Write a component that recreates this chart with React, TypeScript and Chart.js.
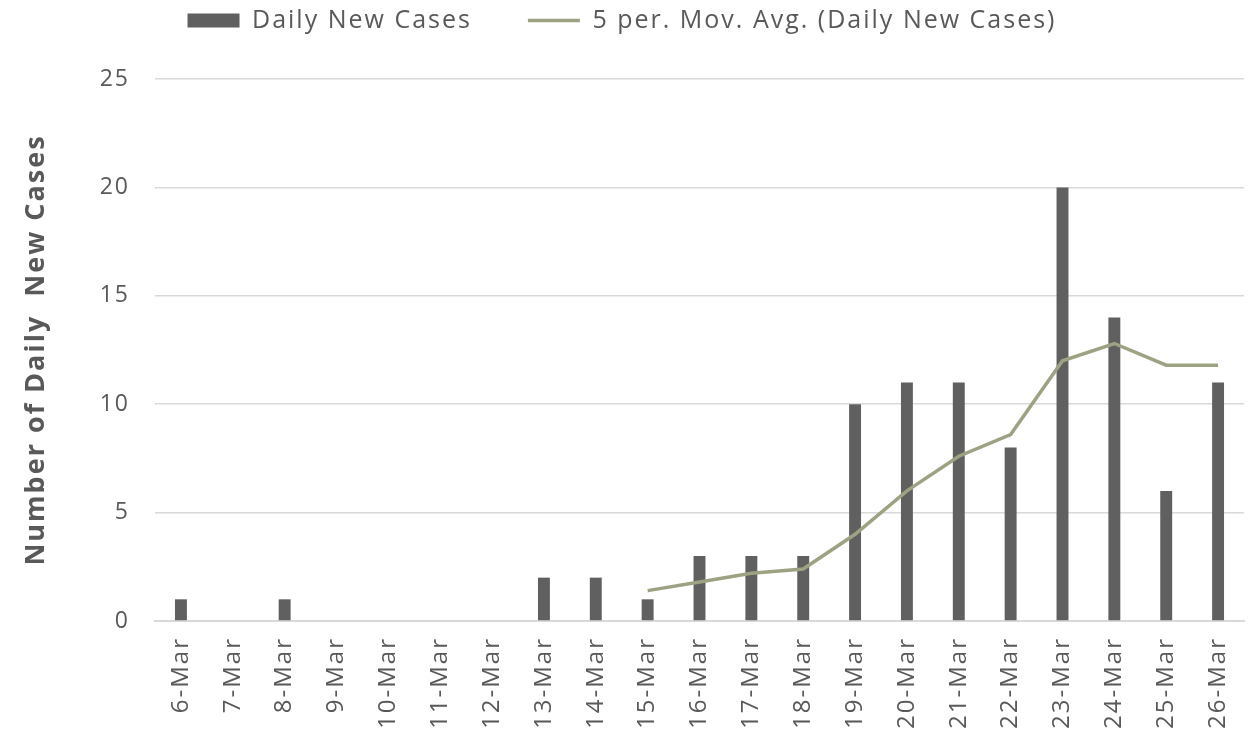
import React, { useEffect, useRef } from "react";
import { Chart, registerables } from "chart.js";

Chart.register(...registerables);

const categories = ["6-Mar", "7-Mar", "8-Mar", "9-Mar", "10-Mar", "11-Mar", "12-Mar", "13-Mar", "14-Mar", "15-Mar", "16-Mar", "17-Mar", "18-Mar", "19-Mar", "20-Mar", "21-Mar", "22-Mar", "23-Mar", "24-Mar", "25-Mar", "26-Mar"];
const dailyNewCases = [1, 0, 1, 0, 0, 0, 0, 2, 2, 1, 3, 3, 3, 10, 11, 11, 8, 20, 14, 6, 11];
const movingAvg: (number | null)[] = [null, null, null, null, null, null, null, null, null, 1.4, 1.8, 2.2, 2.4, 4, 6, 7.6, 8.6, 12, 12.8, 11.8, 11.8];
const yTicks = [0, 5, 10, 15, 20, 25];

const FONT = "'Open Sans', Lato, sans-serif";
const TEXT = "#595959";

export default function App() {
  const ref = useRef<HTMLCanvasElement | null>(null);
  useEffect(() => {
    if (!ref.current) return;
    const spacing = {
      id: "spacing",
      beforeInit(chart: any) {
        chart.ctx.letterSpacing = "2px";
      },
      beforeUpdate(chart: any) {
        chart.ctx.letterSpacing = "2px";
      },
      beforeDraw(chart: any) {
        chart.ctx.letterSpacing = "2px";
      },
    };
    const legendMargin = {
      id: "legendMargin",
      beforeInit(chart: any) {
        const fit = chart.legend.fit;
        chart.legend.fit = function () {
          fit.bind(chart.legend)();
          this.height += 36;
        };
      },
    };
    const chart = new Chart(ref.current, {
      type: "bar",
      data: {
        labels: categories,
        datasets: [
          {
            type: "bar",
            label: "Daily New Cases",
            data: dailyNewCases,
            backgroundColor: "#606060",
            borderWidth: 0,
            barPercentage: 0.23,
            categoryPercentage: 1,
            order: 2,
          },
          {
            type: "line",
            label: "5 per. Mov. Avg. (Daily New Cases)",
            data: movingAvg,
            borderColor: "#9ca383",
            backgroundColor: "#9ca383",
            borderWidth: 3.5,
            pointRadius: 0,
            tension: 0,
            spanGaps: false,
            order: 1,
          },
        ],
      },
      options: {
        animation: false,
        responsive: false,
        maintainAspectRatio: false,
        layout: { padding: { top: -48, right: 14, bottom: 0, left: 0 } },
        plugins: {
          tooltip: { enabled: false },
          legend: {
            position: "top",
            align: "center",
            labels: {
              font: { family: FONT, size: 25 },
              color: TEXT,
              usePointStyle: true,
              pointStyleWidth: 52,
              boxHeight: 14,
              padding: 56,
              generateLabels: (c: any) =>
                c.data.datasets.map((ds: any, i: number) => ({
                  text: ds.label,
                  fillStyle: ds.backgroundColor,
                  strokeStyle: ds.type === "line" ? ds.borderColor : ds.backgroundColor,
                  lineWidth: ds.type === "line" ? 3.5 : 0,
                  pointStyle: ds.type === "line" ? "line" : "rect",
                  fontColor: TEXT,
                  hidden: false,
                  datasetIndex: i,
                })),
            },
          },
        },
        scales: {
          x: {
            afterFit: (s: any) => {
              s.height = 114;
            },
            grid: { display: false },
            border: { display: true, color: "#d9d9d9", width: 2 },
            ticks: {
              font: { family: FONT, size: 24 },
              color: TEXT,
              minRotation: 90,
              maxRotation: 90,
              autoSkip: false,
              padding: 8,
            },
          },
          y: {
            min: 0,
            max: 25,
            afterFit: (s: any) => {
              s.width = 155;
            },
            afterBuildTicks: (s: any) => {
              s.ticks = yTicks.map((v) => ({ value: v }));
            },
            grid: { color: "#d9d9d9", lineWidth: 1.5, drawTicks: false },
            border: { display: false },
            ticks: {
              font: { family: FONT, size: 23 },
              color: TEXT,
              padding: 25,
            },
            title: {
              display: true,
              text: "Number of Daily  New Cases",
              font: { family: FONT, size: 27, weight: "bold" },
              color: TEXT,
              padding: { top: 20, bottom: 0 },
            },
          },
        },
      },
      plugins: [spacing, legendMargin],
    });
    return () => chart.destroy();
  }, []);
  return (
    <div style={{ position: "fixed", left: 0, top: 0, width: 1258, height: 735, background: "#fff" }}>
      <canvas ref={ref} width={1258} height={735} style={{ display: "block" }} />
    </div>
  );
}
